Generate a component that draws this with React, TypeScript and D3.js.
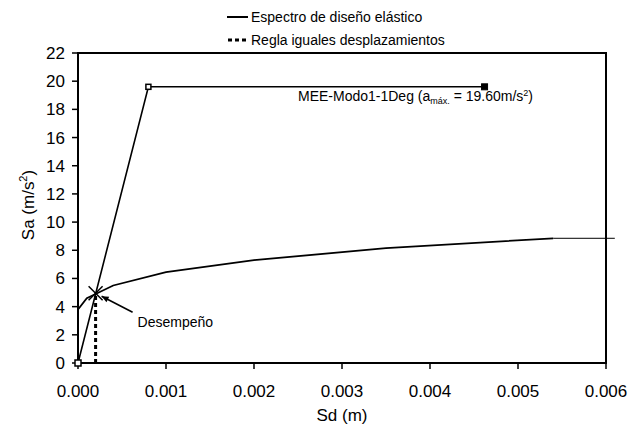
import React from "react";
import * as d3 from "d3";

// ---- data ----
const sdElastic = [0, 0.0008, 0.00462];
const saElastic = [0, 19.6, 19.6];

const sdCapacity = [0, 0.0001, 0.0002, 0.0004, 0.001, 0.002, 0.0035, 0.0054];
const saCapacity = [3.8, 4.6, 4.9, 5.5, 6.45, 7.3, 8.15, 8.85];

const sdTail = [0.0054, 0.0061];
const saTail = [8.85, 8.85];

const sdRule = [0.0002, 0.0002];
const saRule = [0, 4.9];

const perfSd = 0.0002;
const perfSa = 4.95;

const xTicks = [0, 0.001, 0.002, 0.003, 0.004, 0.005, 0.006];
const yTicks = [0, 2, 4, 6, 8, 10, 12, 14, 16, 18, 20, 22];

const legendLabels = ["Espectro de diseño elástico", "Regla iguales desplazamientos"];

const W = 630;
const H = 425;
const FONT = "'Liberation Sans', Arial, sans-serif";

export default function App() {
  const x = d3.scaleLinear().domain([0, 0.006]).range([78, 606]);
  const y = d3.scaleLinear().domain([0, 22]).range([363, 53]);

  const line = d3
    .line<[number, number]>()
    .x((d) => x(d[0]))
    .y((d) => y(d[1]));

  const zip = (a: number[], b: number[]) => a.map((v, i) => [v, b[i]] as [number, number]);

  const elastic = zip(sdElastic, saElastic);
  const capacity = zip(sdCapacity, saCapacity);
  const tail = zip(sdTail, saTail);
  const rule = zip(sdRule, saRule);

  const px = x(perfSd);
  const py = y(perfSa);

  // annotation arrow
  const tipX = px + 6;
  const tipY = py + 3;
  const tailX = px + 37;
  const tailY = py + 19;
  const ang = Math.atan2(tipY - tailY, tipX - tailX);
  const ah = 7;
  const aw = 3;
  const ax1 = tipX - ah * Math.cos(ang) + aw * Math.sin(ang);
  const ay1 = tipY - ah * Math.sin(ang) - aw * Math.cos(ang);
  const ax2 = tipX - ah * Math.cos(ang) - aw * Math.sin(ang);
  const ay2 = tipY - ah * Math.sin(ang) + aw * Math.cos(ang);

  const [x0, x1] = x.range();
  const [y0, y1] = y.range();

  return (
    <svg
      width={W}
      height={H}
      style={{ position: "absolute", left: 0, top: 0, background: "#fff" }}
      fontFamily={FONT}
    >
      <rect x={0} y={0} width={W} height={H} fill="#fff" />

      {/* legend */}
      <line x1={227} x2={248} y1={17} y2={17} stroke="#000" strokeWidth={2} />
      <text x={251} y={22} fontSize={14}>{legendLabels[0]}</text>
      <line x1={228} x2={248} y1={40} y2={40} stroke="#000" strokeWidth={3} strokeDasharray="4,3" />
      <text x={251} y={45} fontSize={14}>{legendLabels[1]}</text>

      {/* plot frame */}
      <rect x={x0} y={y1} width={x1 - x0} height={y0 - y1} fill="none" stroke="#000" strokeWidth={2} />

      {/* y ticks */}
      {yTicks.map((t) => (
        <g key={"y" + t}>
          <line x1={x0 - 6} x2={x0} y1={y(t)} y2={y(t)} stroke="#000" strokeWidth={1.5} />
          <text x={x0 - 13} y={y(t) + 6} fontSize={17} textAnchor="end">
            {t}
          </text>
        </g>
      ))}

      {/* x ticks */}
      {xTicks.map((t) => (
        <g key={"x" + t}>
          <line x1={x(t)} x2={x(t)} y1={y0} y2={y0 + 6} stroke="#000" strokeWidth={1.5} />
          <text x={x(t)} y={y0 + 34} fontSize={17} textAnchor="middle">
            {d3.format(".3f")(t)}
          </text>
        </g>
      ))}

      {/* axis titles */}
      <text x={(x0 + x1) / 2} y={421} fontSize={17} textAnchor="middle">
        Sd (m)
      </text>
      <text transform={`translate(34,205) rotate(-90)`} fontSize={17} textAnchor="middle">
        Sa (m/s<tspan fontSize={11} dy={-7}>2</tspan>
        <tspan dy={7}>)</tspan>
      </text>

      {/* capacity curve */}
      <path d={line(capacity) || ""} fill="none" stroke="#000" strokeWidth={1.8} />
      <path d={line(tail) || ""} fill="none" stroke="#000" strokeWidth={1} />

      {/* elastic spectrum */}
      <path d={line(elastic) || ""} fill="none" stroke="#000" strokeWidth={1.6} />
      <rect x={x(sdElastic[0]) - 3} y={y(saElastic[0]) - 3} width={6} height={6} fill="#fff" stroke="#000" strokeWidth={1.5} />
      <rect x={x(sdElastic[1]) - 2.5} y={y(saElastic[1]) - 2.5} width={5} height={5} fill="#fff" stroke="#000" strokeWidth={1.5} />
      <rect x={x(sdElastic[2]) - 3} y={y(saElastic[2]) - 3} width={6} height={6} fill="#000" stroke="#000" strokeWidth={1} />

      {/* equal displacement rule */}
      <path d={line(rule) || ""} fill="none" stroke="#000" strokeWidth={3} strokeDasharray="4,3" />

      {/* performance point */}
      <line x1={px - 7} x2={px + 7} y1={py - 7} y2={py + 7} stroke="#000" strokeWidth={1.5} />
      <line x1={px - 7} x2={px + 7} y1={py + 7} y2={py - 7} stroke="#000" strokeWidth={1.5} />

      {/* annotation arrow */}
      <line x1={tailX} y1={tailY} x2={tipX} y2={tipY} stroke="#000" strokeWidth={1.5} />
      <polygon points={`${tipX},${tipY} ${ax1},${ay1} ${ax2},${ay2}`} fill="#000" />
      <text x={px + 42} y={py + 34} fontSize={14}>
        Desempeño
      </text>

      {/* elastic label */}
      <text x={x(0.0025)} y={y(19.6) + 14} fontSize={14}>
        MEE-Modo1-1Deg (a
        <tspan fontSize={9} dy={3}>máx.</tspan>
        <tspan dy={-3}> = 19.60m/s</tspan>
        <tspan fontSize={9} dy={-5}>2</tspan>
        <tspan dy={5}>)</tspan>
      </text>
    </svg>
  );
}
